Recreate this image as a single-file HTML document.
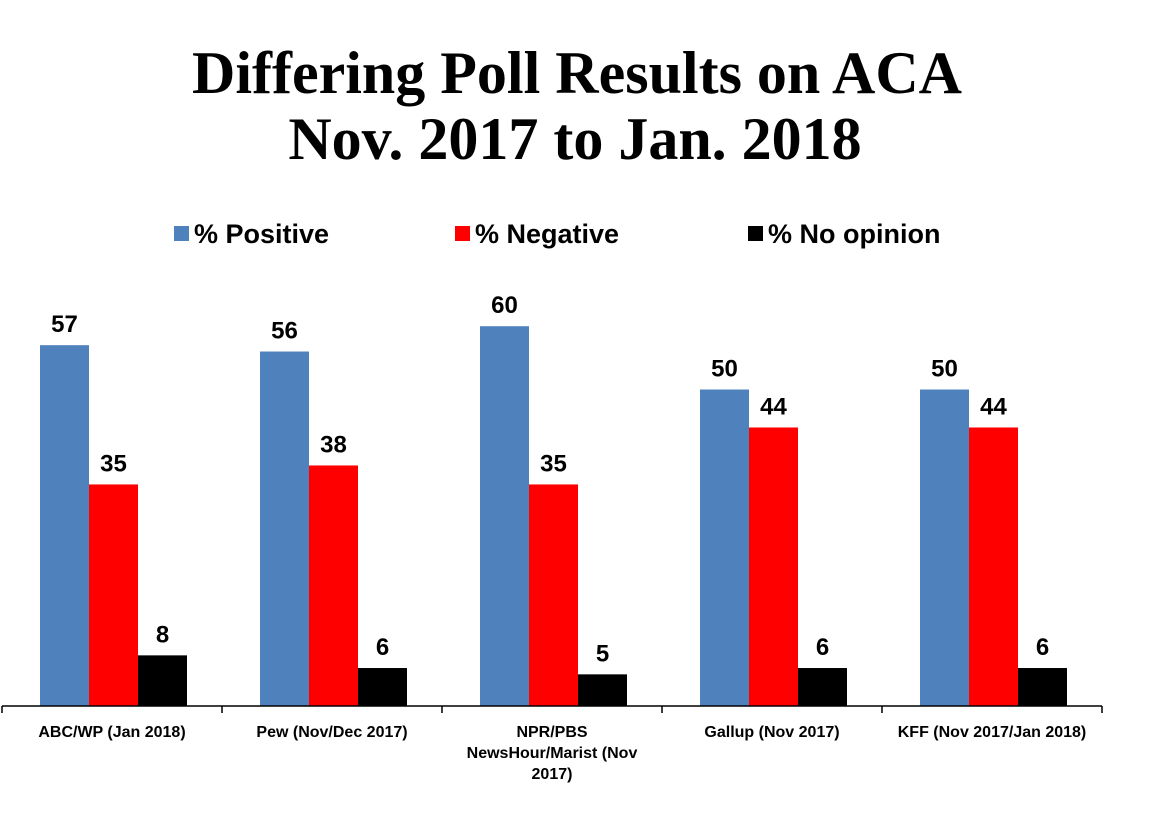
<!DOCTYPE html>
<html><head><meta charset="utf-8"><style>
body{margin:0;background:#fff;width:1150px;height:824px;overflow:hidden;font-family:"Liberation Sans",sans-serif}
svg{display:block}
</style></head><body>
<svg width="1150" height="824">
<text x="577" y="93" text-anchor="middle" font-family="Liberation Serif" font-weight="bold" font-size="60">Differing Poll Results on ACA</text>
<text x="575" y="159" text-anchor="middle" font-family="Liberation Serif" font-weight="bold" font-size="60">Nov. 2017 to Jan. 2018</text>
<g id="legend"></g>
<g id="plot"></g>
</svg>
<script>
const categories=[["ABC/WP (Jan 2018)"],["Pew (Nov/Dec 2017)"],["NPR/PBS","NewsHour/Marist (Nov","2017)"],["Gallup (Nov 2017)"],["KFF (Nov 2017/Jan 2018)"]];
const positive=[57,56,60,50,50];
const negative=[35,38,35,44,44];
const noOpinion=[8,6,5,6,6];
const seriesNames=["% Positive","% Negative","% No opinion"];
const colors=["#4f81bd","#ff0000","#000000"];
const ns="http://www.w3.org/2000/svg";
const plot=document.getElementById('plot'),legend=document.getElementById('legend');
const x0=2,catW=220,baseY=706,scale=6.33,barW=49,off=38;
const y=v=>baseY-v*scale;
const xb=(i,s)=>x0+i*catW+off+s*barW;
function mk(t,a,p){const e=document.createElementNS(ns,t);for(const k in a)e.setAttribute(k,a[k]);p.appendChild(e);return e;}
const series=[positive,negative,noOpinion];
const legX=[174,455,748];
seriesNames.forEach((n,s)=>{
 const r=mk('rect',{x:legX[s],y:226,width:15,height:15,fill:colors[s]},legend);
 
 
 const t=mk('text',{x:legX[s]+20,y:243,'font-size':27,'font-weight':'bold'},legend);
 t.textContent=n;
 
 
});
series.forEach((arr,s)=>arr.forEach((v,i)=>{
 const r=mk('rect',{x:xb(i,s),y:y(v),width:barW,height:v*scale,fill:colors[s]},plot);
 
 
 const t=mk('text',{x:xb(i,s)+barW/2,y:y(v)-13,'text-anchor':'middle','font-size':24,'font-weight':'bold'},plot);
 t.textContent=v;
 
 
}));
const ax=mk('line',{x1:x0,x2:x0+catW*5,y1:baseY,y2:baseY,stroke:'#000','stroke-width':1.5},plot);


for(let i=0;i<=5;i++){
 const tk=mk('line',{x1:x0+i*catW,x2:x0+i*catW,y1:baseY,y2:baseY+7,stroke:'#000','stroke-width':1.5},plot);
 
 
}
categories.forEach((lines,i)=>{
 const t=mk('text',{x:x0+i*catW+catW/2,y:737,'text-anchor':'middle','font-size':16,'font-weight':'bold'},plot);
 
 
 lines.forEach((l,j)=>{const ts=mk('tspan',{x:x0+i*catW+catW/2,dy:j?21:0},t);ts.textContent=l;});
});
</script>
</body></html>
